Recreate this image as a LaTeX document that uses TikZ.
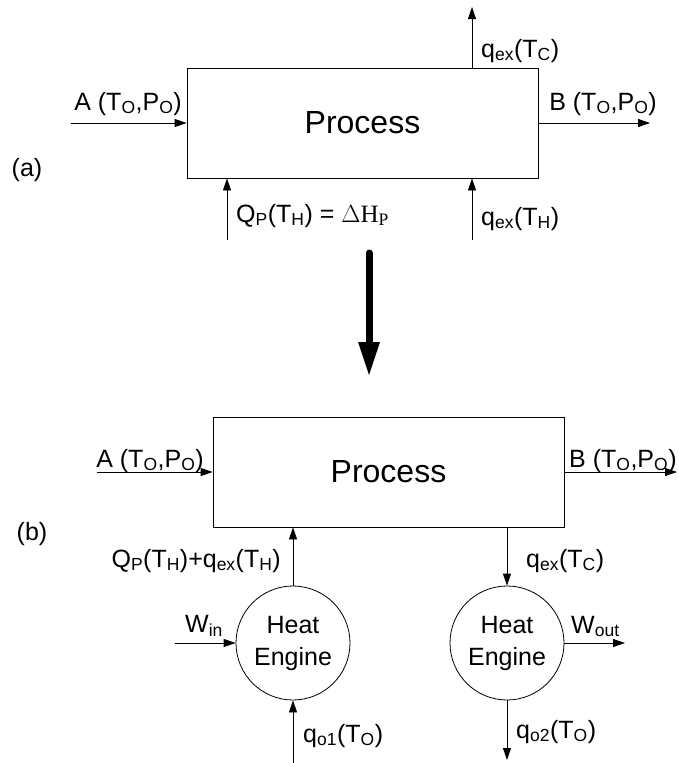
\documentclass[tikz,border=0pt]{standalone}
\usepackage{fontspec}
\setmainfont{Liberation Sans}
\newfontfamily\serifface{Liberation Serif}
\usetikzlibrary{arrows.meta}

% subscript in the running font
\newcommand\sbs[1]{\textsubscript{#1}}

\begin{document}
\begin{tikzpicture}[x=1pt,y=-1pt,
  flow/.style={line width=0.8pt,-{Triangle[length=12pt,width=8pt]}},
  unit/.style={draw,line width=0.8pt,minimum width=351pt,minimum height=110pt,
    inner sep=0pt,font=\fontsize{32}{38}\selectfont},
  engine/.style={draw,circle,line width=0.8pt,minimum size=114pt,inner sep=0pt,
    align=center,font=\fontsize{25}{32}\selectfont},
  lbl/.style={inner sep=0pt,font=\fontsize{25}{30}\selectfont},
  bigarrow/.style={line width=7pt,line cap=round,
    -{Triangle[length=33pt,width=22pt,line width=0pt]}}]

\useasboundingbox (0,0) rectangle (678,763);

% ---------------- (a) ----------------
\node[unit] (pa) at (362.5,123) {Process};

\coordinate (ainA) at (71,123);
\coordinate (aoutB) at (650,123);
\coordinate (atc) at (472,7);
\coordinate (aqp) at (227,240);
\coordinate (ath) at (472,240);

\draw[flow] (ainA) -- (pa.west);
\draw[flow] (pa.east) -- (aoutB);
\draw[flow] (atc |- pa.north) -- (atc);
\draw[flow] (aqp) -- (aqp |- pa.south);
\draw[flow] (ath) -- (ath |- pa.south);

\node[lbl,anchor=base] (laA) at (128,110) {A (T\sbs{O},P\sbs{O})};
\node[lbl,anchor=base] (laB) at (603,110) {B (T\sbs{O},P\sbs{O})};
\node[lbl,anchor=base west] (laTC) at (481,57) {q\sbs{ex}(T\sbs{C})};
\node[lbl,anchor=base west] (laQP) at (236,222)
  {Q\sbs{P}(T\sbs{H}) = {\serifface $\Delta$H\sbs{P}}};
\node[lbl,anchor=base west] (laTH) at (481,225) {q\sbs{ex}(T\sbs{H})};
\node[lbl,anchor=base] (tagA) at (27,176) {(a)};

% transformation arrow
\coordinate (bigtop) at (369,253);
\coordinate (bigtip) at (369,375);
\draw[bigarrow] (bigtop) -- (bigtip);

% ---------------- (b) ----------------
\node[unit] (pb) at (388.5,472) {Process};
\node[engine] (e1) at (293,643) {Heat\\Engine};
\node[engine] (e2) at (507,643) {Heat\\Engine};

\coordinate (binA) at (97,472);
\coordinate (boutB) at (677,472);
\coordinate (win) at (175,643);
\coordinate (wout) at (625,643);
\coordinate (qo1) at (293,763);
\coordinate (qo2) at (507,760);

\draw[flow] (binA) -- (pb.west);
\draw[flow] (pb.east) -- (boutB);
\draw[flow] (e1.north) -- (e1.north |- pb.south);
\draw[flow] (e2.north |- pb.south) -- (e2.north);
\draw[flow] (win) -- (e1.west);
\draw[flow] (e2.east) -- (wout);
\draw[flow] (qo1) -- (e1.south);
\draw[flow] (e2.south) -- (qo2);

\node[lbl,anchor=base] (lbA) at (150,467) {A (T\sbs{O},P\sbs{O})};
\node[lbl,anchor=base west] (lbB) at (569,467) {B (T\sbs{O},P\sbs{O})};
\node[lbl,anchor=base east] (lbQ) at (281,567)
  {Q\sbs{P}(T\sbs{H})+q\sbs{ex}(T\sbs{H})};
\node[lbl,anchor=base west] (lbTC) at (526,567) {q\sbs{ex}(T\sbs{C})};
\node[lbl,anchor=base west] (lbWin) at (185,632) {W\sbs{in}};
\node[lbl,anchor=base west] (lbWout) at (571,633) {W\sbs{out}};
\node[lbl,anchor=base west] (lbq1) at (303,742) {q\sbs{o1}(T\sbs{O})};
\node[lbl,anchor=base west] (lbq2) at (516,738) {q\sbs{o2}(T\sbs{O})};
\node[lbl,anchor=base] (tagB) at (32,540) {(b)};
\end{tikzpicture}
\end{document}
